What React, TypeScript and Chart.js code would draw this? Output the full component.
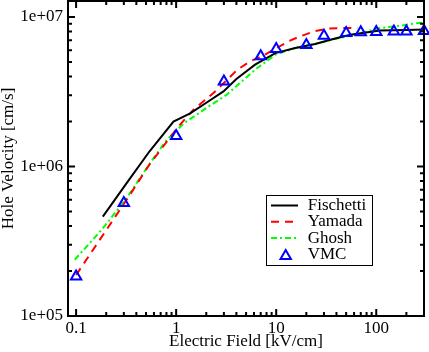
import React, { useEffect, useRef } from 'react';
import { Chart, registerables } from 'chart.js';

Chart.register(...registerables);

// ---- data ----
const fischettiX = [0.185, 0.32, 0.54, 0.94, 1.38, 2.02, 2.97, 4.0, 6.15, 9.8, 15.5, 24.5, 38, 55, 109, 200, 300];
const fischettiY = [4.62e5, 7.74e5, 1.26e6, 2.0e6, 2.27e6, 2.68e6, 3.18e6, 3.85e6, 4.8e6, 5.74e6, 6.2e6, 6.6e6, 7.15e6, 7.62e6, 8.13e6, 8.2e6, 8.25e6];

const yamadaX = [0.1, 0.32, 0.54, 1.05, 1.49, 2.36, 4.1, 5.48, 7.74, 13.2, 17.3, 23.6, 32, 45, 65];
const yamadaY = [1.88e5, 5.99e5, 1.03e6, 1.85e6, 2.4e6, 3.1e6, 4.45e6, 5.05e6, 5.6e6, 6.87e6, 7.42e6, 8.0e6, 8.35e6, 8.44e6, 8.44e6];

const ghoshX = [0.097, 0.18, 0.32, 0.52, 0.8, 1.2, 2.0, 3.2, 4.2, 6.15, 9.8, 15.5, 24.5, 36, 55, 109, 173, 264, 300];
const ghoshY = [2.38e5, 3.77e5, 6.14e5, 1.0e6, 1.5e6, 1.95e6, 2.46e6, 3.02e6, 3.55e6, 4.44e6, 5.6e6, 6.2e6, 6.6e6, 7.05e6, 7.5e6, 8.44e6, 8.75e6, 9.12e6, 9.2e6];

const vmcX = [0.1, 0.3, 1, 3, 7, 10, 20, 30, 50, 70, 100, 150, 200, 300];
const vmcY = [1.84e5, 5.7e5, 1.6e6, 3.7e6, 5.47e6, 6.1e6, 6.5e6, 7.5e6, 7.83e6, 7.9e6, 7.95e6, 8.0e6, 8.0e6, 8.06e6];

const xTickValues = [0.1, 1, 10, 100];
const xTickLabels = ['0.1', '1', '10', '100'];
const yTickValues = [1e5, 1e6, 1e7];
const yTickLabels = ['1e+05', '1e+06', '1e+07'];

const X_MIN = 0.083;
const X_MAX = 300;
const Y_MIN = 1e5;
const Y_MAX = 1.28e7;

const FONT_FAMILY = "'Liberation Serif', 'Times New Roman', serif";

const toPoints = (xs: number[], ys: number[]) => xs.map((x, i) => ({ x, y: ys[i] }));

function minorValues(min: number, max: number, start: number) {
  const out: { v: number; major: boolean }[] = [];
  for (let e = Math.floor(Math.log10(start)); e <= Math.ceil(Math.log10(max)); e++) {
    for (let m = 1; m <= 9; m++) {
      const v = m * Math.pow(10, e);
      if (v >= start * 0.999 && v <= max * 1.001 && v >= min) out.push({ v, major: m === 1 });
    }
  }
  return out;
}

const framePlugin = {
  id: 'frameTicksLegend',
  afterDatasetsDraw(chart: any) {
    const { ctx, chartArea } = chart;
    const xs = chart.scales.x;
    const ys = chart.scales.y;
    const { left, right, top, bottom } = chartArea;
    ctx.save();
    ctx.strokeStyle = '#000';
    ctx.lineWidth = 2;
    ctx.beginPath();
    ctx.rect(left, top, right - left, bottom - top);
    ctx.stroke();

    const MAJ = 7;
    const MIN = 4;
    ctx.beginPath();
    for (const t of minorValues(X_MIN, X_MAX, 0.1)) {
      const px = xs.getPixelForValue(t.v);
      if (px <= left + 1 || px >= right - 1) continue;
      const len = t.major ? MAJ : MIN;
      ctx.moveTo(px, bottom);
      ctx.lineTo(px, bottom - len);
      ctx.moveTo(px, top);
      ctx.lineTo(px, top + len);
    }
    for (const t of minorValues(Y_MIN, Y_MAX, 1e5)) {
      const py = ys.getPixelForValue(t.v);
      if (py >= bottom - 1 || py <= top + 1) continue;
      const len = t.major ? MAJ : MIN;
      ctx.moveTo(left, py);
      ctx.lineTo(left + len, py);
      ctx.moveTo(right, py);
      ctx.lineTo(right - len, py);
    }
    ctx.stroke();

    // legend
    const boxL = 266.5, boxT = 195.5, boxW = 106, boxH = 70;
    ctx.fillStyle = '#fff';
    ctx.fillRect(boxL, boxT, boxW, boxH);
    ctx.lineWidth = 1;
    ctx.strokeStyle = '#000';
    ctx.strokeRect(boxL, boxT, boxW, boxH);
    const rowY0 = 205.5;
    const rowStep = 16.3;
    ctx.font = `17px ${FONT_FAMILY}`;
    ctx.textBaseline = 'middle';
    ctx.textAlign = 'left';
    chart.data.datasets.forEach((ds: any) => {
      const row = ds.legendRow;
      const y = rowY0 + row * rowStep;
      ctx.save();
      if (ds.showLine === false) {
        const cx = 285.7;
        const cy = y + 1.5;
        const r = 6;
        ctx.strokeStyle = ds.pointBorderColor;
        ctx.lineWidth = 2;
        ctx.beginPath();
        ctx.moveTo(cx, cy - r);
        ctx.lineTo(cx + r * Math.sin(Math.PI / 3), cy + r / 2);
        ctx.lineTo(cx - r * Math.sin(Math.PI / 3), cy + r / 2);
        ctx.closePath();
        ctx.stroke();
      } else {
        ctx.strokeStyle = ds.borderColor;
        ctx.lineWidth = 2;
        ctx.setLineDash(ds.borderDash || []);
        ctx.beginPath();
        ctx.moveTo(271, y);
        ctx.lineTo(298, y);
        ctx.stroke();
      }
      ctx.restore();
      ctx.fillStyle = '#000';
      ctx.fillText(ds.label, 307.7, y);
    });
    ctx.restore();
  },
};

export default function App() {
  const ref = useRef<HTMLCanvasElement>(null);
  useEffect(() => {
    document.body.style.margin = '0';
    const canvas = ref.current!;
    const chart = new Chart(canvas, {
      type: 'line',
      data: {
        datasets: [
          {
            label: 'VMC',
            legendRow: 3,
            data: toPoints(vmcX, vmcY),
            showLine: false,
            pointStyle: 'triangle',
            pointRadius: 6,
            pointBorderWidth: 2,
            pointBorderColor: '#0000ff',
            pointBackgroundColor: 'rgba(0,0,0,0)',
            borderColor: '#0000ff',
            backgroundColor: 'rgba(0,0,0,0)',
            clip: false,
          },
          {
            label: 'Fischetti',
            legendRow: 0,
            data: toPoints(fischettiX, fischettiY),
            borderColor: '#000000',
            borderWidth: 2,
            pointRadius: 0,
            tension: 0,
            fill: false,
          },
          {
            label: 'Yamada',
            legendRow: 1,
            data: toPoints(yamadaX, yamadaY),
            borderColor: '#ff0000',
            borderWidth: 2,
            borderDash: [8, 6],
            pointRadius: 0,
            tension: 0,
            fill: false,
          },
          {
            label: 'Ghosh',
            legendRow: 2,
            data: toPoints(ghoshX, ghoshY),
            borderColor: '#00ff00',
            borderWidth: 2,
            borderDash: [6, 3, 2, 3],
            pointRadius: 0,
            tension: 0,
            fill: false,
          },
        ] as any,
      },
      options: {
        responsive: false,
        animation: false,
        events: [],
        layout: { autoPadding: false, padding: { top: 1, right: 5, left: 0, bottom: 0 } },
        plugins: { legend: { display: false }, tooltip: { enabled: false } },
        scales: {
          x: {
            type: 'logarithmic',
            position: 'bottom',
            min: X_MIN,
            max: X_MAX,
            grid: { display: false, drawTicks: false },
            border: { display: false },
            afterBuildTicks: (s: any) => {
              s.ticks = xTickValues.map((v) => ({ value: v }));
            },
            afterFit: (s: any) => {
              s.height = 36;
              s.paddingLeft = 0;
              s.paddingRight = 0;
              s.paddingTop = 0;
              s.paddingBottom = 0;
            },
            ticks: {
              autoSkip: false,
              maxRotation: 0,
              padding: 2,
              color: '#000',
              font: { family: FONT_FAMILY, size: 17 },
              callback: (_v: any, i: number) => xTickLabels[i],
            },
            title: {
              display: true,
              text: 'Electric Field [kV/cm]',
              color: '#000',
              font: { family: FONT_FAMILY, size: 17, lineHeight: 1 },
              padding: { top: 0, bottom: 1.5 },
            },
          },
          y: {
            type: 'logarithmic',
            position: 'left',
            min: Y_MIN,
            max: Y_MAX,
            grid: { display: false, drawTicks: false },
            border: { display: false },
            afterBuildTicks: (s: any) => {
              s.ticks = yTickValues.map((v) => ({ value: v }));
            },
            afterFit: (s: any) => {
              s.width = 68;
              s.paddingLeft = 0;
              s.paddingRight = 0;
              s.paddingTop = 0;
              s.paddingBottom = 0;
            },
            ticks: {
              autoSkip: false,
              padding: 5,
              color: '#000',
              font: { family: FONT_FAMILY, size: 17 },
              callback: (_v: any, i: number) => yTickLabels[i],
            },
            title: {
              display: true,
              text: 'Hole Velocity [cm/s]',
              color: '#000',
              font: { family: FONT_FAMILY, size: 17, lineHeight: 1 },
              padding: { top: 0, bottom: 0 },
            },
          },
        },
      } as any,
      plugins: [framePlugin],
    });
    return () => chart.destroy();
  }, []);
  return (
    <canvas ref={ref} width={429} height={352} style={{ display: 'block', width: 429, height: 352 }} />
  );
}
